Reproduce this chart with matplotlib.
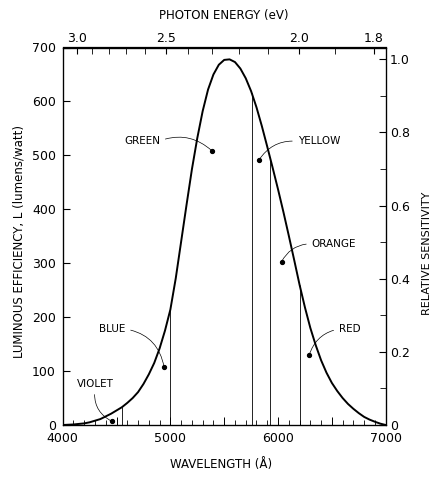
import numpy as np
import matplotlib
matplotlib.use('Agg')
import matplotlib.pyplot as plt

plt.rcParams['font.family'] = ['DejaVu Sans']

# luminous efficiency curve, every 50 A
wavelength = [4000, 4050, 4100, 4150, 4200, 4250, 4300, 4350, 4400, 4450,
              4500, 4550, 4600, 4650, 4700, 4750, 4800, 4850, 4900, 4950,
              5000, 5050, 5100, 5150, 5200, 5250, 5300, 5350, 5400, 5450,
              5500, 5550, 5600, 5650, 5700, 5750, 5800, 5850, 5900, 5950,
              6000, 6050, 6100, 6150, 6200, 6250, 6300, 6350, 6400, 6450,
              6500, 6550, 6600, 6650, 6700, 6750, 6800, 6850, 6900, 6950,
              7000]
efficiency = [0, 0.5, 1, 2, 3, 5, 8, 11, 16, 21,
              27, 33, 41, 50, 61, 76, 94, 115, 142, 175,
              214, 272, 340, 408, 474, 532, 582, 622, 650, 668,
              677, 678, 673, 661, 643, 619, 589, 554, 516, 477,
              437, 395, 351, 306, 260, 218, 180, 148, 120, 97,
              78, 63, 50, 39, 30, 22, 15, 10, 6, 2.5,
              0]

# boundaries between the colour bands (A)
band_edges = [4550, 5000, 5755, 5925, 6200]

band_names = ['VIOLET', 'BLUE', 'GREEN', 'YELLOW', 'ORANGE', 'RED']
band_dot_x = [4455, 4941, 5383, 5825, 6033, 6290]
band_dot_y = [7, 108, 509, 492, 303, 130]

wl_ticks = [4000, 4500, 5000, 5500, 6000, 6500, 7000]
wl_labels = ['4000', '', '5000', '', '6000', '', '7000']
energy_ticks = [3.0, 2.5, 2.0, 1.8]
energy_labels = ['3.0', '2.5', '2.0', '1.8']
rel_ticks = [0, 0.2, 0.4, 0.6, 0.8, 1.0]
rel_labels = ['0', '0.2', '0.4', '0.6', '0.8', '1.0']
HC = 12398.4  # eV * A

# where the band names sit, and how their leaders bend
label_xy = [(4300, 76), (4458, 178), (4736, 527), (6380, 526), (6520, 336), (6667, 178)]
label_rel = [(0.5, 0.0), (1.0, 0.5), (1.0, 0.5), (0.0, 0.5), (0.0, 0.5), (0.0, 0.5)]
label_rad = [0.35, -0.35, -0.3, 0.3, 0.3, 0.3]

fig = plt.figure(figsize=(4.35, 4.79), dpi=100)
ax = fig.add_axes([62.7 / 435, 54 / 479, 323 / 435, 377.5 / 479])

ax.plot(wavelength, efficiency, color='black', lw=1.4, zorder=3)
ax.vlines(band_edges, 0, np.interp(band_edges, wavelength, efficiency),
          color='black', lw=0.6)
ax.plot(band_dot_x, band_dot_y, 'o', color='black', ms=2.8, zorder=4)

for name, xy_t, dx, dy, rel, rad in zip(band_names, label_xy, band_dot_x,
                                         band_dot_y, label_rel, label_rad):
    ax.annotate(name, xy=(dx, dy), xytext=xy_t, ha='center', va='center',
                fontsize=7.5,
                arrowprops=dict(arrowstyle='-', color='black', lw=0.5,
                                relpos=rel, shrinkA=2, shrinkB=0,
                                connectionstyle='arc3,rad=%s' % rad))

ax.set_xlim(4000, 7000)
ax.set_ylim(0, 700)
ax.set_xticks(wl_ticks)
ax.set_xticklabels(wl_labels)
ax.set_xticks(np.arange(4000, 7001, 100), minor=True)
ax.set_yticks(np.arange(0, 701, 100))
for s in ax.spines.values():
    s.set_linewidth(0.9)
ax.tick_params(axis='both', which='both', direction='in', labelsize=9)
ax.tick_params(axis='x', which='major', length=6, width=0.7, pad=5, top=False)
ax.tick_params(axis='x', which='minor', length=3.5, width=0.6, top=False)
ax.tick_params(axis='y', which='major', length=5, pad=5, right=False)

ax.set_xlabel('WAVELENGTH (Å)', fontsize=8.5)
ax.xaxis.set_label_coords(0.49, -0.088)
ax.set_ylabel('LUMINOUS EFFICIENCY, L (lumens/watt)', fontsize=8.5)
ax.yaxis.set_label_coords(-0.114, 0.485)

# right axis: relative sensitivity (1.0 at the peak)
ax2 = ax.twinx()
ax2.set_ylim(0, 700 / max(efficiency))
ax2.set_yticks(rel_ticks)
ax2.set_yticklabels(rel_labels)
ax2.set_yticks(np.arange(0.1, 1.0, 0.2), minor=True)
ax2.tick_params(axis='y', which='both', direction='in', labelsize=9, pad=3)
ax2.tick_params(axis='y', which='major', length=5)
ax2.tick_params(axis='y', which='minor', length=4)
ax2.set_ylabel('RELATIVE SENSITIVITY', fontsize=8)
ax2.yaxis.set_label_coords(1.111, 0.456)


def to_energy(w):
    w = np.asarray(w, dtype=float)
    return HC / np.where(w == 0, 1e-9, w)


# top axis: photon energy
secax = ax.secondary_xaxis('top', functions=(to_energy, to_energy))
secax.set_xticks(energy_ticks)
secax.set_xticklabels(energy_labels)
secax.set_xticks(np.arange(1.8, 3.05, 0.1), minor=True)
secax.tick_params(axis='x', which='both', direction='in', length=5,
                  labelsize=9, pad=2)
secax.spines['top'].set_linewidth(0.9)
secax.set_xlabel('PHOTON ENERGY (eV)', fontsize=8.5, labelpad=9)

fig.savefig('out.png', dpi=100)
